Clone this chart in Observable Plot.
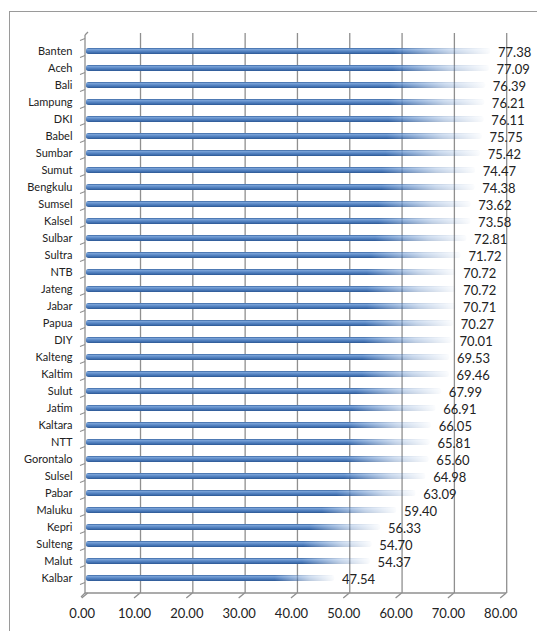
<!DOCTYPE html>
<html><head><meta charset="utf-8">
<script src="https://cdn.jsdelivr.net/npm/d3@7"></script>
<script src="https://cdn.jsdelivr.net/npm/@observablehq/plot@0.6"></script>
<style>
body{margin:0;background:#fff;}
#wrap{position:relative;width:537px;height:631px;overflow:hidden;}
#frame{position:absolute;left:9px;top:11px;width:560px;height:660px;border:1px solid #9a9a9a;box-sizing:border-box;}
#chart{position:absolute;left:0;top:0;}
</style>
</head><body>
<div id="wrap"><div id="frame"></div><div id="chart"></div></div>
<script>
const regions = ["Banten","Aceh","Bali","Lampung","DKI","Babel","Sumbar","Sumut","Bengkulu","Sumsel","Kalsel","Sulbar","Sultra","NTB","Jateng","Jabar","Papua","DIY","Kalteng","Kaltim","Sulut","Jatim","Kaltara","NTT","Gorontalo","Sulsel","Pabar","Maluku","Kepri","Sulteng","Malut","Kalbar"];
const values = [77.38,77.09,76.39,76.21,76.11,75.75,75.42,74.47,74.38,73.62,73.58,72.81,71.72,70.72,70.72,70.71,70.27,70.01,69.53,69.46,67.99,66.91,66.05,65.81,65.60,64.98,63.09,59.40,56.33,54.70,54.37,47.54];
const xTicks = [0,10,20,30,40,50,60,70,80];

const data = regions.map((r,i)=>({region:r, value:values[i]}));

function decor(index, scales, vals, dims) {
  const {x, y} = scales;
  const g = d3.create("svg:g");
  const defs = g.append("defs");
  const vg = defs.append("linearGradient").attr("id","barGrad").attr("x1",0).attr("y1",0).attr("x2",0).attr("y2",1);
  [[0,"#34619e"],[0.22,"#7aa3d8"],[0.5,"#5a88c6"],[0.82,"#3d6cab"],[1,"#2b5590"]].forEach(([o,c])=>vg.append("stop").attr("offset",o).attr("stop-color",c));
  const hg = defs.append("linearGradient").attr("id","hFade").attr("x1",0).attr("y1",0).attr("x2",1).attr("y2",0);
  [[0,"#fff"],[0.76,"#fff"],[0.9,"#555"],[1,"#060606"]].forEach(([o,c])=>hg.append("stop").attr("offset",o).attr("stop-color",c));
  defs.append("mask").attr("id","fadeMask").attr("maskContentUnits","objectBoundingBox")
    .append("rect").attr("width",1).attr("height",1).attr("fill","url(#hFade)");
  const bottom = dims.height - dims.marginBottom;
  const top = dims.marginTop;
  const ax = dims.marginLeft;
  const st = "#8f8f8f";
  g.append("line").attr("x1",ax).attr("x2",x(80)).attr("y1",bottom).attr("y2",bottom).attr("stroke",st).attr("stroke-width",1.3);
  xTicks.forEach(v=>{
    g.append("line").attr("x1",x(v)).attr("y1",bottom).attr("x2",x(v)-6).attr("y2",bottom+5).attr("stroke",st).attr("stroke-width",1.3);
  });
  g.append("line").attr("x1",ax).attr("x2",ax).attr("y1",top+2).attr("y2",bottom).attr("stroke",st).attr("stroke-width",1.3);
  g.append("line").attr("x1",ax).attr("x2",ax+3).attr("y1",top+2).attr("y2",top-1).attr("stroke",st).attr("stroke-width",1.3);
  g.append("line").attr("x1",ax).attr("x2",ax-4).attr("y1",bottom).attr("y2",bottom+4).attr("stroke",st).attr("stroke-width",1.3);
  const step = y.step();
  const r0 = y.range()[0];
  for (let i=0;i<=regions.length;i++){
    const b = r0 + i*step;
    g.append("line").attr("x1",ax).attr("x2",ax-5).attr("y1",b).attr("y2",b+2).attr("stroke",st).attr("stroke-width",1.1);
  }
  return g.node();
}

const plot = Plot.plot({
  width: 537,
  height: 631,
  marginTop: 33,
  marginBottom: 38,
  marginLeft: 85,
  marginRight: 20,
  style: {fontFamily: "Lato, sans-serif", color: "#222", background: "transparent"},
  x: {domain: [0,80], range: [87.7, 506.2]},
  y: {domain: regions, range: [38.4, 591.7], paddingInner: 0.64, paddingOuter: 0.32, align: 0.5},
  marks: [
    Plot.ruleX(xTicks.filter(v=>v>0), {stroke: "#8f8f8f", strokeWidth: 1.3}),
    decor,
    Plot.barX(data, {x1: 0, x2: "value", y: "region", fill: "url(#barGrad)", rx: 3, dx: -2}),
    Plot.text(data, {x: "value", y: "region", text: d=>d.value.toFixed(2), textAnchor: "start", dx: 5, dy: 1, fontSize: 13, fill: "#222"}),
    Plot.axisY({tickSize: 0, tickPadding: 13, fontSize: 11, label: null}),
    Plot.axisX({ticks: xTicks, tickFormat: d=>d.toFixed(2), tickSize: 0, tickPadding: 15, dx: -6, fontSize: 13, label: null})
  ]
});
document.getElementById("chart").appendChild(plot);
plot.querySelectorAll('g[aria-label="bar"] rect').forEach(r=>r.setAttribute("mask","url(#fadeMask)"));
</script>
</body></html>
